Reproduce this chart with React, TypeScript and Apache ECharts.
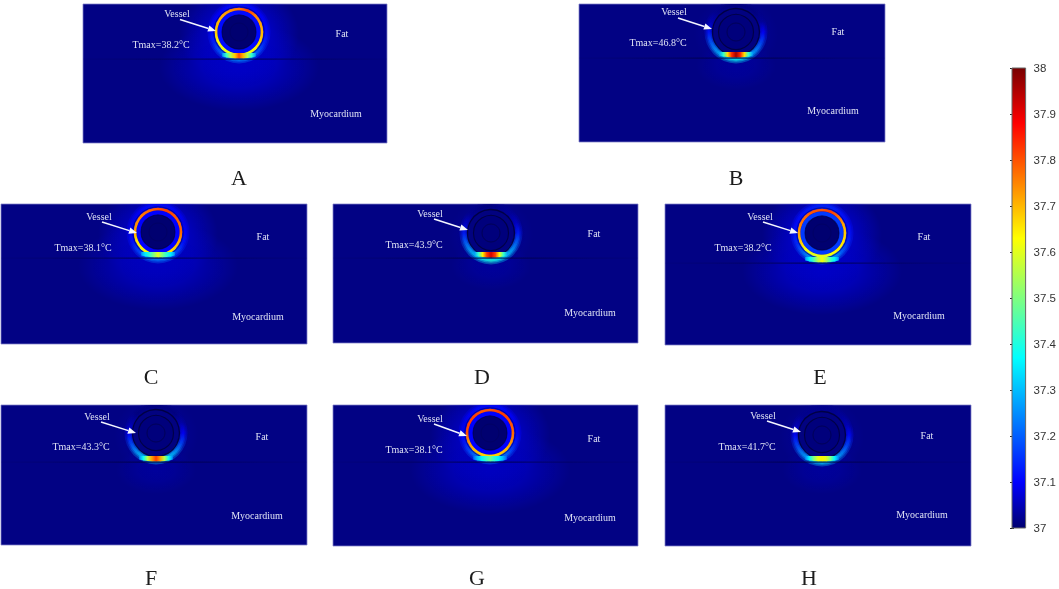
import React, { useEffect, useRef } from "react";
import * as echarts from "echarts";

// ---------- readings (°C) ----------
const panelIds = ["A", "B", "C", "D", "E", "F", "G", "H"];
const tmaxLabels = ["38.2", "46.8", "38.1", "43.9", "38.2", "43.3", "38.1", "41.7"];
const colorbarTicks = { min: 37, max: 38, step: 0.1 };
// jet colour scale: position on scale, r, g, b
const jetStops = [
  [0, 0, 0, 112], [0.1, 0, 0, 255], [0.37, 0, 255, 255],
  [0.63, 255, 255, 0], [0.88, 255, 0, 0], [1, 120, 0, 0],
];

// Vessel wall temperature, 16 samples clockwise from the top (null = wall not heated)
const ringA = [37.76, 37.82, 37.76, 37.72, 37.7, 37.68, 37.64, 37.6, 37.58, 37.6, 37.62, 37.64, 37.68, 37.7, 37.72, 37.74];
const ringB = null;
const ringC = [37.8, 37.82, 37.8, 37.78, 37.78, 37.72, 37.68, 37.64, 37.62, 37.62, 37.64, 37.66, 37.72, 37.74, 37.76, 37.78];
const ringD = null;
const ringE = [37.8, 37.82, 37.78, 37.72, 37.68, 37.66, 37.64, 37.62, 37.6, 37.6, 37.62, 37.68, 37.72, 37.76, 37.78, 37.8];
const ringF = null;
const ringG = [37.8, 37.82, 37.82, 37.8, 37.78, 37.74, 37.7, 37.68, 37.66, 37.68, 37.7, 37.74, 37.8, 37.82, 37.82, 37.8];
const ringH = null;

// Fat just outside the wall, 16 samples clockwise from the top
const haloA = [37.12, 37.11, 37.1, 37.1, 37.11, 37.14, 37.2, 37.26, 37.26, 37.26, 37.2, 37.14, 37.11, 37.1, 37.1, 37.11];
const haloB = [37.01, 37.01, 37.01, 37.03, 37.1, 37.18, 37.26, 37.34, 37.38, 37.34, 37.28, 37.2, 37.12, 37.05, 37.02, 37.01];
const haloC = [37.11, 37.11, 37.1, 37.09, 37.1, 37.12, 37.18, 37.24, 37.24, 37.24, 37.18, 37.12, 37.1, 37.09, 37.1, 37.11];
const haloD = [37.01, 37.02, 37.03, 37.06, 37.13, 37.22, 37.3, 37.36, 37.4, 37.36, 37.3, 37.22, 37.13, 37.06, 37.02, 37.01];
const haloE = [37.14, 37.14, 37.12, 37.11, 37.12, 37.15, 37.22, 37.3, 37.3, 37.3, 37.22, 37.15, 37.12, 37.11, 37.12, 37.13];
const haloF = [37.01, 37.01, 37.01, 37.04, 37.1, 37.18, 37.28, 37.34, 37.36, 37.34, 37.28, 37.18, 37.1, 37.04, 37.01, 37.01];
const haloG = [37.11, 37.11, 37.1, 37.09, 37.1, 37.13, 37.2, 37.26, 37.26, 37.26, 37.2, 37.13, 37.1, 37.09, 37.1, 37.11];
const haloH = [37.02, 37.02, 37.03, 37.05, 37.11, 37.18, 37.26, 37.32, 37.34, 37.32, 37.26, 37.18, 37.11, 37.05, 37.02, 37.02];

// Hot spot at the fat/myocardium boundary, 9 samples left to right
const spotA = [37.26, 37.42, 37.55, 37.68, 37.8, 37.7, 37.55, 37.42, 37.26];
const spotB = [37.26, 37.42, 37.66, 37.84, 37.96, 37.84, 37.66, 37.42, 37.26];
const spotC = [37.26, 37.35, 37.42, 37.5, 37.6, 37.5, 37.42, 37.35, 37.26];
const spotD = [37.26, 37.42, 37.64, 37.82, 37.92, 37.82, 37.62, 37.42, 37.26];
const spotE = [37.26, 37.36, 37.44, 37.55, 37.62, 37.55, 37.44, 37.36, 37.26];
const spotF = [37.24, 37.38, 37.56, 37.72, 37.82, 37.72, 37.56, 37.38, 37.24];
const spotG = [37.2, 37.3, 37.36, 37.42, 37.48, 37.42, 37.36, 37.3, 37.2];
const spotH = [37.24, 37.36, 37.5, 37.6, 37.64, 37.6, 37.5, 37.36, 37.24];

// Lumen rim, broad fat glow, myocardium glow
const rimT = [37.11, 37.0, 37.1, 37.0, 37.16, 37.0, 37.1, 37.0];
const fatGlowT = [37.075, 37.03, 37.07, 37.03, 37.075, 37.03, 37.07, 37.03];
const myoGlowT = [37.06, 37.03, 37.055, 37.03, 37.06, 37.03, 37.055, 37.03];

const ringSets = [ringA, ringB, ringC, ringD, ringE, ringF, ringG, ringH];
const haloSets = [haloA, haloB, haloC, haloD, haloE, haloF, haloG, haloH];
const spotSets = [spotA, spotB, spotC, spotD, spotE, spotF, spotG, spotH];

// ---------- layout (pixels) ----------
// rect: x, y, w, h; vessel: cx, cy (page); iface: page y of the boundary
const layout = [
  { rect: [83, 4, 304, 139], vessel: [239, 32], iface: 59, letter: [239, 177], vesselT: [177, 13], tmax: [161, 44], fat: [342, 33], myo: [336, 113], arrow: [180, 19.5, 216, 31] },
  { rect: [579, 4, 306, 138], vessel: [736, 32], iface: 58, letter: [736, 177], vesselT: [674, 11], tmax: [658, 42], fat: [838, 31], myo: [833, 110], arrow: [678, 18, 712, 29] },
  { rect: [1, 204, 306, 140], vessel: [158, 232], iface: 258, letter: [151, 376], vesselT: [99, 216], tmax: [83, 247], fat: [263, 236], myo: [258, 316], arrow: [102, 222, 137, 233] },
  { rect: [333, 204, 305, 139], vessel: [491, 233], iface: 258, letter: [482, 376], vesselT: [430, 213], tmax: [414, 244], fat: [594, 233], myo: [590, 312], arrow: [434, 219, 468, 230] },
  { rect: [665, 204, 306, 141], vessel: [822, 233], iface: 263, letter: [820, 376], vesselT: [760, 216], tmax: [743, 247], fat: [924, 236], myo: [919, 315], arrow: [763, 222, 798, 233] },
  { rect: [1, 405, 306, 140], vessel: [156, 433], iface: 462, letter: [151, 577], vesselT: [97, 416], tmax: [81, 446], fat: [262, 436], myo: [257, 515], arrow: [101, 422, 136, 433] },
  { rect: [333, 405, 305, 141], vessel: [490, 433], iface: 462, letter: [477, 577], vesselT: [430, 418], tmax: [414, 449], fat: [594, 438], myo: [590, 517], arrow: [434, 424, 467, 436] },
  { rect: [665, 405, 306, 141], vessel: [822, 435], iface: 462, letter: [809, 577], vesselT: [763, 415], tmax: [747, 446], fat: [927, 435], myo: [922, 514], arrow: [767, 421, 801, 432] },
];
const colorbarRect = [1012, 68, 14, 460];

// ---------- colour ----------
function jet(T: number) {
  const t = Math.max(0, Math.min(1, (T - colorbarTicks.min) / (colorbarTicks.max - colorbarTicks.min)));
  for (let i = 1; i < jetStops.length; i++) {
    const a = jetStops[i - 1], b = jetStops[i];
    if (t <= b[0]) {
      const f = (t - a[0]) / (b[0] - a[0]);
      return [1, 2, 3].map((k) => Math.round(a[k] + (b[k] - a[k]) * f));
    }
  }
  return [120, 0, 0];
}
const css = (T: number, a = 1) => {
  const [r, g, b] = jet(T);
  return `rgba(${r},${g},${b},${a})`;
};

// ---------- per-panel marks ----------
type Item = any;
function panelItems(i: number): Item[] {
  const L = layout[i];
  const ox = L.rect[0], oy = L.rect[1];
  const cx = L.vessel[0] - ox, cy = L.vessel[1] - oy;
  const yi = L.iface - oy;
  const ring = ringSets[i], halo = haloSets[i], spot = spotSets[i];
  const R = 23;
  const items: Item[] = [];
  items.push({ kind: "glow", x: cx, y: cy + 2, rx: ring ? 60 : 42, ry: ring ? 50 : 38, T: fatGlowT[i] });
  items.push({ kind: "glow", x: cx, y: yi + 8, rx: ring ? 80 : 40, ry: ring ? 44 : 24, T: myoGlowT[i] });
  const bands = [[9, 0.3], [5.5, 0.4], [2.8, 0.6]];
  bands.forEach(([w, a]) => {
    halo.forEach((T, k) => items.push({ kind: "arc", x: cx, y: cy, r: R + 4, w, k, T0: T, T1: halo[(k + 1) % 16], a }));
  });
  if (ring) {
    items.push({ kind: "disc", x: cx, y: cy, r: 21.5, fill: css(rimT[i]) });
    ring.forEach((T, k) => items.push({ kind: "arc", x: cx, y: cy, r: R, w: 2.6, k, T0: T, T1: ring[(k + 1) % 16], a: 1, round: true }));
  } else {
    items.push({ kind: "disc", x: cx, y: cy, r: R, fill: "rgb(2,2,128)" });
  }
  items.push({ kind: "disc", x: cx, y: cy, r: ring ? 17 : 17.5, fill: ring ? "rgb(0,0,112)" : "rgb(0,0,124)" });
  items.push({ kind: "circle", x: cx, y: cy, r: ring ? 17 : 17.5, stroke: ring ? "rgba(0,0,70,0.7)" : "rgba(0,0,60,0.85)", w: 1.1 });
  items.push({ kind: "circle", x: cx, y: cy, r: 9, stroke: ring ? "rgba(0,0,90,0.5)" : "rgba(0,0,70,0.7)", w: 1 });
  if (!ring) items.push({ kind: "circle", x: cx, y: cy, r: R + 0.5, stroke: "rgba(0,0,60,0.9)", w: 1.3 });
  else items.push({ kind: "circle", x: cx, y: cy, r: R + 2.2, stroke: "rgba(0,0,90,0.5)", w: 1 });
  spot.forEach((T, k) => {
    if (k < spot.length - 1) items.push({ kind: "spot", x: cx + (k - 4) * 4.2, y: yi - 0.5, h: 5.5, k, T0: T, T1: spot[k + 1] });
  });
  items.push({ kind: "iface", x: 0, y: yi, len: L.rect[2], mid: cx });
  return items;
}

function makeRender(items: Item[]) {
  return (params: any, api: any) => {
    const it = items[params.dataIndex];
    const c = api.coord([it.x, it.y]);
    if (it.kind === "glow") {
      const s = api.size([it.rx, it.ry]);
      return {
        type: "ellipse",
        shape: { cx: c[0], cy: c[1], rx: s[0], ry: s[1] },
        style: {
          fill: {
            type: "radial", x: 0.5, y: 0.5, r: 0.5,
            colorStops: [
              { offset: 0, color: css(it.T, 1) },
              { offset: 0.45, color: css(it.T, 0.75) },
              { offset: 1, color: css(it.T, 0) },
            ],
          },
        },
      };
    }
    if (it.kind === "arc") {
      const r = api.size([it.r, 0])[0];
      const a0 = (it.k / 16) * 2 * Math.PI - Math.PI / 2;
      const a1 = ((it.k + 1) / 16) * 2 * Math.PI - Math.PI / 2;
      return {
        type: "arc",
        shape: { cx: c[0], cy: c[1], r, startAngle: a0, endAngle: a1, clockwise: true },
        style: {
          fill: "none",
          lineWidth: it.w,
          lineCap: it.round ? "round" : "butt",
          opacity: it.a,
          stroke: {
            type: "linear", global: true,
            x: c[0] + r * Math.cos(a0), y: c[1] + r * Math.sin(a0),
            x2: c[0] + r * Math.cos(a1), y2: c[1] + r * Math.sin(a1),
            colorStops: [{ offset: 0, color: css(it.T0) }, { offset: 1, color: css(it.T1) }],
          },
        },
      };
    }
    if (it.kind === "disc") {
      return { type: "circle", shape: { cx: c[0], cy: c[1], r: api.size([it.r, 0])[0] }, style: { fill: it.fill } };
    }
    if (it.kind === "circle") {
      return {
        type: "circle",
        shape: { cx: c[0], cy: c[1], r: api.size([it.r, 0])[0] },
        style: { fill: "none", stroke: it.stroke, lineWidth: it.w },
      };
    }
    if (it.kind === "spot") {
      const w = api.size([4.2, 0])[0];
      const h = api.size([0, it.h])[1];
      const sag = (d: number) => d * d * 0.12;
      const x0 = c[0], x1 = c[0] + w;
      const d0 = it.k - 4, d1 = it.k - 3;
      const lap = it.k < 7 ? 0.7 : 0; // overlap the next cell so no seam shows
      return {
        type: "polygon",
        shape: {
          points: [[x0, c[1] - h], [x1 + lap, c[1] - h], [x1 + lap, c[1] - sag(d1)], [x0, c[1] - sag(d0)]],
        },
        style: {
          fill: {
            type: "linear", global: true, x: x0, y: c[1], x2: x1, y2: c[1],
            colorStops: [{ offset: 0, color: css(it.T0) }, { offset: 1, color: css(it.T1) }],
          },
        },
      };
    }
    // boundary line
    const end = api.coord([it.len, it.y]);
    const mid = it.mid / it.len;
    return {
      type: "rect",
      shape: { x: c[0], y: c[1] - 0.5, width: end[0] - c[0], height: 1.2 },
      style: {
        fill: {
          type: "linear", global: true, x: c[0], y: c[1], x2: end[0], y2: c[1],
          colorStops: [
            { offset: 0, color: "rgba(0,0,90,0.1)" },
            { offset: mid * 0.5, color: "rgba(0,0,80,0.45)" },
            { offset: mid, color: "rgba(0,0,60,0.8)" },
            { offset: mid + (1 - mid) * 0.5, color: "rgba(0,0,80,0.45)" },
            { offset: 1, color: "rgba(0,0,90,0.1)" },
          ],
        },
      },
    };
  };
}

// ---------- option ----------
function buildOption() {
  const grid: any[] = [], xAxis: any[] = [], yAxis: any[] = [], series: any[] = [], graphic: any[] = [];
  const serif = "Liberation Serif";
  const whiteText = (text: string, p: number[], fontSize = 10) => ({
    type: "text", x: p[0], y: p[1], z: 100,
    style: { text, fill: "#dfe2f4", fontFamily: serif, fontSize, align: "center", verticalAlign: "middle" },
  });
  layout.forEach((L, i) => {
    const [x, y, w, h] = L.rect;
    grid.push({
      left: x, top: y, width: w, height: h, show: true,
      backgroundColor: "rgb(2,2,132)", borderColor: "rgba(130,130,200,0.75)", borderWidth: 1,
    });
    xAxis.push({ type: "value", gridIndex: i, min: 0, max: w, show: false });
    yAxis.push({ type: "value", gridIndex: i, min: 0, max: h, inverse: true, show: false });
    const items = panelItems(i);
    series.push({
      type: "custom", xAxisIndex: i, yAxisIndex: i, clip: true, silent: true,
      coordinateSystem: "cartesian2d",
      renderItem: makeRender(items),
      encode: { x: 0, y: 1 },
      data: items.map((it) => [it.x, it.y]),
    });
    const [ax, ay, bx, by] = L.arrow;
    const len = Math.hypot(bx - ax, by - ay), ux = (bx - ax) / len, uy = (by - ay) / len;
    const hl = 8, hw = 3.2;
    graphic.push({
      type: "line", z: 100,
      shape: { x1: ax, y1: ay, x2: bx - ux * hl, y2: by - uy * hl },
      style: { stroke: "#f4f6ff", lineWidth: 1.5 },
    });
    graphic.push({
      type: "polygon", z: 100,
      shape: {
        points: [
          [bx, by],
          [bx - ux * hl - uy * hw, by - uy * hl + ux * hw],
          [bx - ux * hl + uy * hw, by - uy * hl - ux * hw],
        ],
      },
      style: { fill: "#f4f6ff" },
    });
    graphic.push(whiteText("Vessel", L.vesselT));
    graphic.push(whiteText(`Tmax=${tmaxLabels[i]}°C`, L.tmax));
    graphic.push(whiteText("Fat", L.fat));
    graphic.push(whiteText("Myocardium", L.myo));
    graphic.push({
      type: "text", x: L.letter[0], y: L.letter[1], z: 100,
      style: { text: panelIds[i], fill: "#1c1c1c", fontFamily: serif, fontSize: 22, align: "center", verticalAlign: "middle" },
    });
  });

  // colour bar
  const ci = layout.length;
  const [bx, by, bw, bh] = colorbarRect;
  grid.push({ left: bx, top: by, width: bw, height: bh });
  xAxis.push({ type: "value", gridIndex: ci, min: 0, max: 1, show: false });
  const barAxis = {
    type: "value", gridIndex: ci,
    min: colorbarTicks.min, max: colorbarTicks.max, interval: colorbarTicks.step,
    splitLine: { show: false },
    axisLine: { show: false },
    axisTick: { show: true, inside: true, length: 2, lineStyle: { color: "#222", width: 1 } },
  };
  yAxis.push({
    ...barAxis, position: "right",
    axisLabel: { show: true, color: "#333", fontFamily: "Liberation Sans", fontSize: 11.5, margin: 8, showMinLabel: true, showMaxLabel: true },
  });
  yAxis.push({ ...barAxis, position: "left", axisLabel: { show: false } });
  series.push({
    type: "custom", xAxisIndex: ci, yAxisIndex: ci, silent: true, z: 1,
    coordinateSystem: "cartesian2d",
    encode: { x: 0, y: 1 },
    data: [[0, colorbarTicks.min, 1, colorbarTicks.max]],
    renderItem: (_p: any, api: any) => {
      const a = api.coord([api.value(0), api.value(1)]);
      const b = api.coord([api.value(2), api.value(3)]);
      return {
        type: "rect",
        shape: { x: a[0], y: b[1], width: b[0] - a[0], height: a[1] - b[1] },
        style: {
          stroke: "#666", lineWidth: 1,
          fill: {
            type: "linear", x: 0, y: 1, x2: 0, y2: 0,
            colorStops: jetStops.map((s) => ({ offset: s[0], color: `rgb(${s[1]},${s[2]},${s[3]})` })),
          },
        },
      };
    },
  });
  return { animation: false, backgroundColor: "#fff", grid, xAxis, yAxis, series, graphic };
}

export default function App() {
  const ref = useRef<HTMLDivElement>(null);
  useEffect(() => {
    const chart = echarts.init(ref.current!, undefined, { renderer: "svg" });
    chart.setOption(buildOption());
    return () => chart.dispose();
  }, []);
  return (
    <div
      ref={ref}
      style={{ position: "absolute", left: 0, top: 0, width: 1059, height: 589, filter: "blur(0.6px)" }}
    />
  );
}
